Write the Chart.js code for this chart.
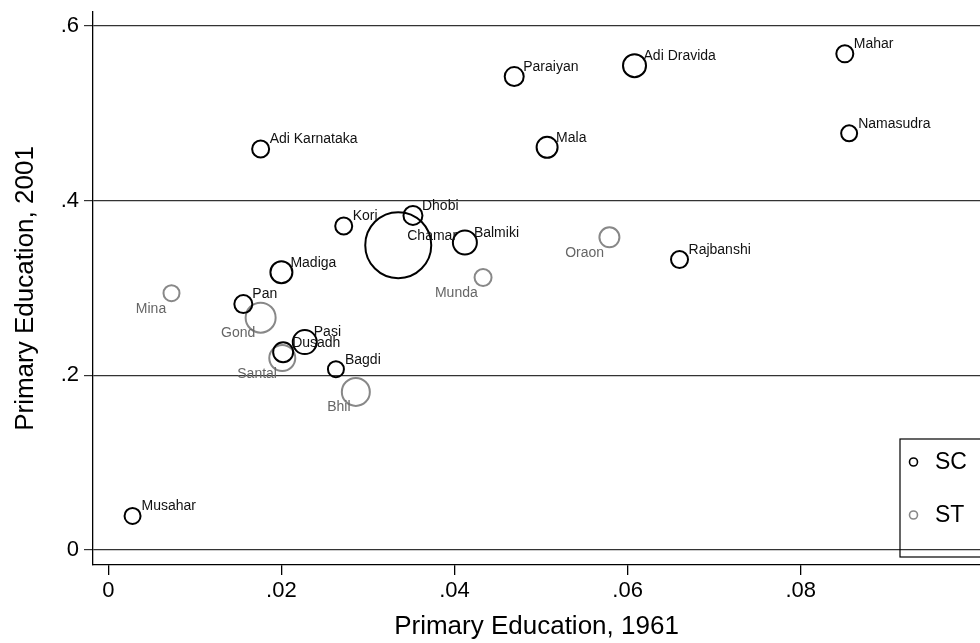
<!DOCTYPE html>
<html>
<head>
<meta charset="utf-8">
<script src="https://cdn.jsdelivr.net/npm/chart.js@4/dist/chart.umd.min.js"></script>
<style>
  body { margin: 0; background: #fff; }
  #wrap { width: 980px; height: 643px; }
</style>
</head>
<body>
<div id="wrap"><canvas id="chart" width="980" height="643"></canvas></div>
<script>
// Scheduled Castes
var scNames = ["Paraiyan", "Adi Dravida", "Mahar", "Adi Karnataka", "Mala", "Namasudra", "Kori", "Dhobi", "Chamar",
  "Balmiki", "Rajbanshi", "Madiga", "Pan", "Pasi", "Dusadh", "Bagdi", "Musahar"];
var scEdu1961 = [0.0469, 0.0608, 0.0851, 0.0176, 0.0507, 0.0856, 0.0272, 0.0352, 0.0335,
  0.0412, 0.0660, 0.0200, 0.0156, 0.0227, 0.0202, 0.0263, 0.0028];
var scEdu2001 = [0.542, 0.5545, 0.568, 0.459, 0.461, 0.477, 0.371, 0.383, 0.349,
  0.352, 0.3325, 0.318, 0.2815, 0.238, 0.2265, 0.207, 0.039];
var scSize = [9.5, 11.5, 8.5, 8.5, 10.5, 8, 8.5, 9.5, 33, 12, 8.5, 11, 9, 12, 10, 8, 8];

// Scheduled Tribes
var stNames = ["Oraon", "Munda", "Mina", "Gond", "Santal", "Bhil"];
var stEdu1961 = [0.0579, 0.0433, 0.0073, 0.0176, 0.0201, 0.0286];
var stEdu2001 = [0.358, 0.312, 0.294, 0.266, 0.2197, 0.181];
var stSize = [10, 8.5, 8, 15, 13, 14];

var xTicks = [0, 0.02, 0.04, 0.06, 0.08];
var yTicks = [0, 0.2, 0.4, 0.6];

var FONT = "'Liberation Sans', Arial, Helvetica, sans-serif";

function toPoints(xs, ys, rs) {
  return xs.map(function (x, i) { return { x: x, y: ys[i], r: rs[i] }; });
}

function fmt(v) {
  return String(v).replace(/^0\./, ".");
}

// names next to each bubble, black ones up-right, grey ones down-left
var labelPlugin = {
  id: "labels",
  afterDatasetsDraw: function (chart) {
    var ctx = chart.ctx;
    ctx.save();
    ctx.font = "14px " + FONT;
    ctx.textBaseline = "middle";
    chart.data.datasets.forEach(function (ds, di) {
      var meta = chart.getDatasetMeta(di);
      meta.data.forEach(function (el, i) {
        var name = ds.names[i];
        if (di === 0) {
          ctx.fillStyle = "#111";
          ctx.textAlign = "left";
          ctx.fillText(name, el.x + 9, el.y - 9.5);
        } else {
          ctx.fillStyle = "#666";
          ctx.textAlign = "right";
          ctx.fillText(name, el.x - 5.3, el.y + 15.7);
        }
      });
    });
    ctx.restore();
  }
};

// legend box in the lower right corner of the plot
var legendBox = {
  id: "legendBox",
  afterDraw: function (chart) {
    var ctx = chart.ctx;
    ctx.save();
    ctx.strokeStyle = "#000";
    ctx.lineWidth = 1.2;
    ctx.strokeRect(900, 439, 120, 118);
    var items = [["SC", "#000", 462], ["ST", "#888", 515]];
    items.forEach(function (it) {
      ctx.beginPath();
      ctx.arc(913.5, it[2], 4, 0, Math.PI * 2);
      ctx.strokeStyle = it[1];
      ctx.lineWidth = 1.6;
      ctx.stroke();
      ctx.fillStyle = "#000";
      ctx.font = "23px " + FONT;
      ctx.textAlign = "left";
      ctx.textBaseline = "middle";
      ctx.fillText(it[0], 935, it[2] + 1);
    });
    ctx.restore();
  }
};

var ctx = document.getElementById("chart").getContext("2d");
var chart = new Chart(ctx, {
  type: "bubble",
  data: {
    datasets: [
      {
        label: "SC",
        names: scNames,
        data: toPoints(scEdu1961, scEdu2001, scSize),
        borderColor: "#000",
        backgroundColor: "rgba(0,0,0,0)",
        borderWidth: 2
      },
      {
        label: "ST",
        names: stNames,
        data: toPoints(stEdu1961, stEdu2001, stSize),
        borderColor: "#888",
        backgroundColor: "rgba(0,0,0,0)",
        borderWidth: 2
      }
    ]
  },
  options: {
    responsive: false,
    animation: false,
    devicePixelRatio: 1,
    layout: { autoPadding: false, padding: { top: 12, left: 0, right: 0, bottom: 0 } },
    plugins: {
      legend: { display: false },
      tooltip: { enabled: false }
    },
    scales: {
      x: {
        type: "linear",
        min: -0.00177,
        max: 0.10072,
        afterBuildTicks: function (scale) {
          scale.ticks = xTicks.map(function (v) { return { value: v }; });
        },
        afterFit: function (scale) {
          scale.height = 78;
          scale.paddingLeft = 0;
          scale.paddingRight = 0;
        },
        grid: { drawOnChartArea: false, drawTicks: true, tickLength: 10, color: "#000", lineWidth: 1.3 },
        border: { display: true, color: "#000", width: 1.3 },
        ticks: {
          color: "#000",
          padding: 3,
          maxRotation: 0,
          font: { family: FONT, size: 22 },
          callback: function (v) { return fmt(v); }
        },
        title: {
          display: true,
          text: "Primary Education, 1961",
          color: "#000",
          padding: { top: 0, bottom: 1 },
          font: { family: FONT, size: 26 }
        }
      },
      y: {
        type: "linear",
        min: -0.01716,
        max: 0.6159,
        afterBuildTicks: function (scale) {
          scale.ticks = yTicks.map(function (v) { return { value: v }; });
        },
        afterFit: function (scale) {
          scale.width = 93;
          scale.paddingTop = 0;
          scale.paddingBottom = 0;
        },
        grid: { drawOnChartArea: true, drawTicks: true, tickLength: 9, color: "#333", lineWidth: 1.2 },
        border: { display: true, color: "#000", width: 1.3 },
        ticks: {
          color: "#000",
          padding: 5,
          font: { family: FONT, size: 22 },
          callback: function (v) { return fmt(v); }
        },
        title: {
          display: true,
          text: "Primary Education, 2001",
          color: "#000",
          padding: { top: 10, bottom: 0 },
          font: { family: FONT, size: 26 }
        }
      }
    }
  },
  plugins: [labelPlugin, legendBox]
});
</script>
</body>
</html>
